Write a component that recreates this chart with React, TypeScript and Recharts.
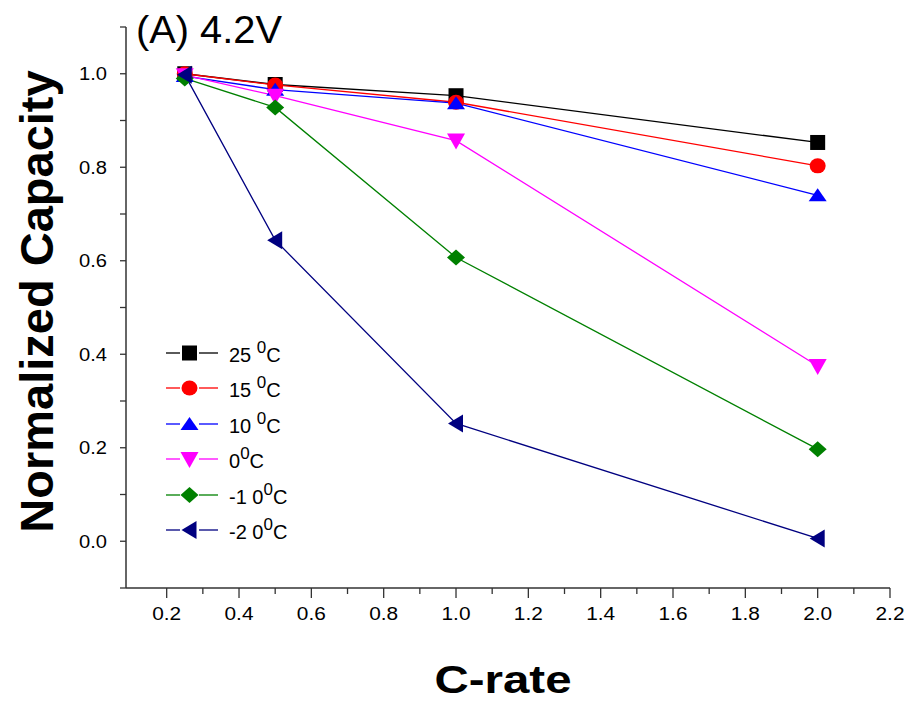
import React from "react"
import { LineChart, Line, XAxis, YAxis } from "recharts"

// ─── Data ─────────────────────────────────────────────────────────────────────

const C_RATE = [0.25, 0.5, 1.0, 2.0]

const CAP_25 = [1.0, 0.977, 0.953, 0.853]
const CAP_15 = [1.0, 0.976, 0.939, 0.803]
const CAP_10 = [0.995, 0.966, 0.937, 0.74]
const CAP_0 = [0.997, 0.953, 0.857, 0.375]
const CAP_M10 = [0.99, 0.928, 0.607, 0.197]
const CAP_M20 = [0.998, 0.644, 0.252, 0.006]

const TEMP_LABELS = ["25 ", "15 ", "10 ", "0", "-1 0", "-2 0"]

const X_MAJOR = [0.2, 0.4, 0.6, 0.8, 1.0, 1.2, 1.4, 1.6, 1.8, 2.0, 2.2]
const X_MINOR = [0.3, 0.5, 0.7, 0.9, 1.1, 1.3, 1.5, 1.7, 1.9, 2.1]
const Y_MAJOR = [0.0, 0.2, 0.4, 0.6, 0.8, 1.0]
const Y_MINOR = [-0.1, 0.1, 0.3, 0.5, 0.7, 0.9, 1.1]

const rows = C_RATE.map((c, i) => ({
  c,
  t25: CAP_25[i],
  t15: CAP_15[i],
  t10: CAP_10[i],
  t0: CAP_0[i],
  tm10: CAP_M10[i],
  tm20: CAP_M20[i],
}))

// ─── Series styling ───────────────────────────────────────────────────────────

type Shape = "square" | "circle" | "up" | "down" | "diamond" | "left"

const SERIES: { key: string; color: string; shape: Shape }[] = [
  { key: "t25", color: "#000000", shape: "square" },
  { key: "t15", color: "#ff0000", shape: "circle" },
  { key: "t10", color: "#0000ff", shape: "up" },
  { key: "t0", color: "#ff00ff", shape: "down" },
  { key: "tm10", color: "#008000", shape: "diamond" },
  { key: "tm20", color: "#000080", shape: "left" },
]

const FONT = "'Liberation Sans', Arial, sans-serif"
const AXIS = "#333333"

function Marker({ shape, cx, cy, color }: { shape: Shape; cx: number; cy: number; color: string }) {
  switch (shape) {
    case "square":
      return <rect x={cx - 7.5} y={cy - 7.5} width={15} height={15} fill={color} />
    case "circle":
      return <ellipse cx={cx} cy={cy} rx={8} ry={7.5} fill={color} />
    case "up":
      return <polygon points={`${cx - 9},${cy + 6} ${cx + 9},${cy + 6} ${cx},${cy - 7}`} fill={color} />
    case "down":
      return <polygon points={`${cx - 9},${cy - 7} ${cx + 9},${cy - 7} ${cx},${cy + 9}`} fill={color} />
    case "diamond":
      return <polygon points={`${cx - 9},${cy} ${cx},${cy - 8} ${cx + 9},${cy} ${cx},${cy + 8}`} fill={color} />
    default:
      return <polygon points={`${cx + 7},${cy - 9} ${cx + 7},${cy + 9} ${cx - 8},${cy}`} fill={color} />
  }
}

// ─── Ticks ────────────────────────────────────────────────────────────────────

function XTick({ x, y, payload }: any) {
  const major = X_MAJOR.some((v) => Math.abs(v - payload.value) < 1e-6)
  return (
    <g>
      <line x1={x} x2={x} y1={y} y2={y + (major ? 10 : 6)} stroke={AXIS} strokeWidth={1.3} />
      {major && (
        <text
          x={x}
          y={y + 31.5}
          textAnchor="middle"
          fontSize={18}
          fontFamily={FONT}
          textLength={29}
          lengthAdjust="spacingAndGlyphs"
          fill="#000"
        >
          {payload.value.toFixed(1)}
        </text>
      )}
    </g>
  )
}

function YTick({ x, y, payload }: any) {
  const major = Y_MAJOR.some((v) => Math.abs(v - payload.value) < 1e-6)
  return (
    <g>
      <line x1={x - 6} x2={x} y1={y} y2={y} stroke={AXIS} strokeWidth={1.3} />
      {major && (
        <text
          x={x - 19}
          y={y + 6.5}
          textAnchor="end"
          fontSize={18}
          fontFamily={FONT}
          textLength={28}
          lengthAdjust="spacingAndGlyphs"
          fill="#000"
        >
          {payload.value.toFixed(1)}
        </text>
      )}
    </g>
  )
}

// ─── Legend (drawn beside the chart so it does not shrink the plot) ──────────

function LegendBox() {
  return (
    <div style={{ position: "absolute", left: 158, top: 335, fontFamily: FONT, fontSize: 20, color: "#000" }}>
      {SERIES.map((s, i) => (
        <div key={s.key} style={{ display: "flex", alignItems: "center", height: 35.5 }}>
          <svg width={71} height={24} style={{ overflow: "visible" }}>
            <line x1={8} x2={22} y1={12} y2={12} stroke={s.color} strokeWidth={1.3} />
            <line x1={41} x2={60} y1={12} y2={12} stroke={s.color} strokeWidth={1.3} />
            <Marker shape={s.shape} cx={31.5} cy={12} color={s.color} />
          </svg>
          <span style={{ whiteSpace: "pre" }}>
            {TEMP_LABELS[i]}
            <sup style={{ fontSize: 17, position: "relative", top: -1 }}>0</sup>C
          </span>
        </div>
      ))}
    </div>
  )
}

// ─── Chart ────────────────────────────────────────────────────────────────────

export default function App() {
  return (
    <div style={{ position: "absolute", left: 0, top: 0, width: 911, height: 705, background: "#fff" }}>
      <LineChart width={911} height={705} data={rows} margin={{ top: 27, right: 21, left: 66, bottom: 87 }}>
        <text
          x={136}
          y={43}
          fontSize={38}
          fontFamily={FONT}
          textLength={146}
          lengthAdjust="spacingAndGlyphs"
          fill="#000"
        >
          (A) 4.2V
        </text>
        <XAxis
          type="number"
          dataKey="c"
          domain={[0.0875, 2.2]}
          ticks={[...X_MAJOR, ...X_MINOR]}
          interval={0}
          height={30}
          tickSize={0}
          tickMargin={0}
          tickLine={false}
          tick={<XTick />}
          axisLine={{ stroke: AXIS, strokeWidth: 1.5 }}
          label={{
            content: ({ viewBox }: any) => (
              <text
                x={viewBox.x + viewBox.width / 2 - 5}
                y={viewBox.y + 105}
                textAnchor="middle"
                fontSize={39}
                fontWeight="bold"
                fontFamily={FONT}
                textLength={137}
                lengthAdjust="spacingAndGlyphs"
                fill="#000"
              >
                C-rate
              </text>
            ),
          }}
        />
        <YAxis
          type="number"
          domain={[-0.1, 1.1]}
          ticks={[...Y_MAJOR, ...Y_MINOR]}
          interval={0}
          width={60}
          tickSize={0}
          tickMargin={0}
          tickLine={false}
          tick={<YTick />}
          axisLine={{ stroke: AXIS, strokeWidth: 1.5 }}
          label={{
            content: ({ viewBox }: any) => {
              const lx = viewBox.x - 13
              const ly = viewBox.y + viewBox.height / 2 - 6
              return (
                <text
                  x={lx}
                  y={ly}
                  transform={`rotate(-90 ${lx} ${ly})`}
                  textAnchor="middle"
                  fontSize={47}
                  fontWeight="bold"
                  fontFamily={FONT}
                  fill="#000"
                >
                  Normalized Capacity
                </text>
              )
            },
          }}
        />
        {SERIES.map((s) => (
          <Line
            key={s.key}
            dataKey={s.key}
            stroke={s.color}
            strokeWidth={1.3}
            isAnimationActive={false}
            dot={(p: any) => (
              <Marker key={`${s.key}-${p.index}`} shape={s.shape} cx={p.cx} cy={p.cy} color={s.color} />
            )}
            activeDot={false}
          />
        ))}
      </LineChart>
      <LegendBox />
    </div>
  )
}
